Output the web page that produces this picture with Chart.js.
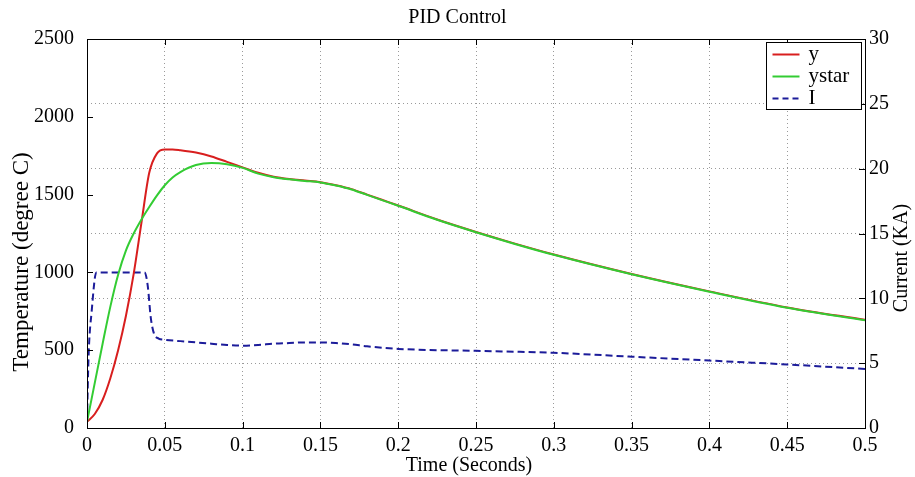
<!DOCTYPE html>
<html>
<head>
<title>PID Control</title>
<script src="https://cdn.jsdelivr.net/npm/chart.js@4"></script>
<style>
  html, body { margin: 0; padding: 0; background: #fff; }
</style>
</head>
<body>
<canvas id="pid" width="915" height="477"></canvas>
<script>
// time axis for the two temperature curves (seconds)
const tTemp = [0, 0.005, 0.01, 0.015, 0.02, 0.025, 0.03, 0.035, 0.04, 0.045, 0.05, 0.055, 0.06, 0.07, 0.08, 0.09, 0.1,
               0.11, 0.12, 0.13, 0.14, 0.15, 0.16, 0.17, 0.18, 0.19, 0.2, 0.225, 0.25, 0.275, 0.3, 0.35, 0.4, 0.45, 0.5];
// measured temperature y (degree C)
const yTemp = [40, 90, 180, 320, 500, 720, 990, 1320, 1640, 1765, 1790, 1790, 1785, 1770, 1745, 1710, 1675,
               1640, 1615, 1600, 1590, 1580, 1560, 1535, 1500, 1465, 1430, 1340, 1260, 1185, 1115, 990, 878, 775, 695];
// reference temperature ystar (degree C)
const ystarTemp = [40, 290, 540, 780, 985, 1140, 1250, 1340, 1420, 1495, 1560, 1610, 1645, 1690, 1703, 1695, 1672,
                   1635, 1612, 1598, 1588, 1578, 1558, 1533, 1498, 1463, 1428, 1338, 1258, 1183, 1113, 988, 876, 773, 693];

// time axis for the current (seconds)
const tCur = [0, 0.001, 0.003, 0.006, 0.02, 0.037, 0.039, 0.041, 0.043, 0.046, 0.05, 0.06, 0.07, 0.08, 0.09, 0.1,
              0.11, 0.12, 0.13, 0.14, 0.15, 0.16, 0.17, 0.18, 0.2, 0.25, 0.3, 0.35, 0.4, 0.45, 0.5];
// current I (KA)
const iCur = [0.5, 5.5, 9, 12, 12, 12, 11, 8.5, 7.3, 6.9, 6.8, 6.7, 6.6, 6.5, 6.4, 6.35,
              6.4, 6.5, 6.55, 6.6, 6.6, 6.55, 6.45, 6.3, 6.1, 5.95, 5.8, 5.5, 5.2, 4.9, 4.55];

const SERIF = '"Liberation Serif", "Times New Roman", serif';
const RED = '#d81e1e', GREEN = '#33cc33', BLUE = '#1c1c9a';

function pts(xs, ys) {
    return xs.map((x, i) => ({x: x, y: ys[i]}));
}

// box, inward tick marks, axis titles and the legend, MATLAB style
const matlabAxes = {
    id: 'matlabAxes',
    afterDraw(chart) {
        const {ctx, chartArea: a, scales} = chart;
        const len = 6;
        ctx.save();
        ctx.strokeStyle = '#000';
        ctx.lineWidth = 1;
        ctx.setLineDash([]);
        ctx.strokeRect(Math.round(a.left) + 0.5, Math.round(a.top) + 0.5,
                       Math.round(a.right - a.left), Math.round(a.bottom - a.top));
        ctx.beginPath();
        scales.x.ticks.forEach(t => {
            const px = Math.round(scales.x.getPixelForValue(t.value)) + 0.5;
            ctx.moveTo(px, a.bottom); ctx.lineTo(px, a.bottom - len);
            ctx.moveTo(px, a.top); ctx.lineTo(px, a.top + len);
        });
        scales.y.ticks.forEach(t => {
            const py = Math.round(scales.y.getPixelForValue(t.value)) + 0.5;
            ctx.moveTo(a.left, py); ctx.lineTo(a.left + len, py);
        });
        scales.y2.ticks.forEach(t => {
            const py = Math.round(scales.y2.getPixelForValue(t.value)) + 0.5;
            ctx.moveTo(a.right, py); ctx.lineTo(a.right - len, py);
        });
        ctx.stroke();

        // axis titles
        ctx.fillStyle = '#000';
        ctx.textAlign = 'center';
        ctx.textBaseline = 'middle';
        ctx.font = '20px ' + SERIF;
        ctx.fillText('Time (Seconds)', 469, 466);

        ctx.save();
        ctx.translate(22, 262);
        ctx.rotate(-Math.PI / 2);
        ctx.font = '23px ' + SERIF;
        ctx.fillText('Temperature (degree C)', 0, 0);
        ctx.restore();

        ctx.save();
        ctx.translate(902, 258);
        ctx.rotate(-Math.PI / 2);
        ctx.font = '20px ' + SERIF;
        ctx.fillText('Current (KA)', 0, 0);
        ctx.restore();

        // legend
        const bx = Math.round(a.right) - 98.5, by = Math.round(a.top) + 3.5, bw = 95, bh = 67;
        ctx.fillStyle = '#fff';
        ctx.fillRect(bx, by, bw, bh);
        ctx.strokeStyle = '#000';
        ctx.strokeRect(bx, by, bw, bh);
        const items = [['y', RED, []], ['ystar', GREEN, []], ['I', BLUE, [6, 4]]];
        items.forEach((it, i) => {
            const ry = by + 12 + i * 22;
            ctx.strokeStyle = it[1];
            ctx.lineWidth = 2;
            ctx.setLineDash(it[2]);
            ctx.beginPath();
            ctx.moveTo(bx + 6, ry); ctx.lineTo(bx + 33, ry);
            ctx.stroke();
            ctx.setLineDash([]);
            ctx.fillStyle = '#000';
            ctx.textAlign = 'left';
            ctx.font = '21px ' + SERIF;
            ctx.fillText(it[0], bx + 42, ry);
        });
        ctx.restore();
    }
};

const tickFont = {family: SERIF, size: 20};
const plain = v => String(Number(v.toFixed(2)));

new Chart(document.getElementById('pid'), {
    type: 'scatter',
    data: {
        datasets: [
            {label: 'y', data: pts(tTemp, yTemp), yAxisID: 'y', order: 1,
             borderColor: RED, borderWidth: 2},
            {label: 'ystar', data: pts(tTemp, ystarTemp), yAxisID: 'y', order: 0,
             borderColor: GREEN, borderWidth: 2},
            {label: 'I', data: pts(tCur, iCur), yAxisID: 'y2', order: 2,
             borderColor: BLUE, borderWidth: 2, borderDash: [7, 4]}
        ]
    },
    options: {
        responsive: false,
        animation: false,
        showLine: true,
        layout: {padding: 0},
        elements: {
            point: {radius: 0, hoverRadius: 0},
            line: {cubicInterpolationMode: 'monotone', fill: false}
        },
        plugins: {
            legend: {display: false},
            tooltip: {enabled: false},
            title: {
                display: true,
                text: 'PID Control',
                color: '#000',
                font: {family: SERIF, size: 20, weight: 'normal'},
                padding: {top: 6, bottom: 9}
            }
        },
        scales: {
            x: {
                type: 'linear',
                min: 0, max: 0.5,
                afterFit: s => { s.height = 49; },
                grid: {color: '#9a9a9a', drawTicks: false},
                border: {display: false, dash: [1, 3]},
                ticks: {
                    stepSize: 0.05, autoSkip: false, maxRotation: 0, padding: 6,
                    color: '#000', font: tickFont, callback: plain
                }
            },
            y: {
                position: 'left',
                min: 0, max: 2500,
                afterFit: s => { s.width = 87; },
                grid: {display: false},
                border: {display: false},
                ticks: {stepSize: 500, padding: 5, color: '#000', font: tickFont, callback: plain}
            },
            y2: {
                position: 'right',
                min: 0, max: 30,
                afterFit: s => { s.width = 50; },
                grid: {color: '#9a9a9a', drawTicks: false},
                border: {display: false, dash: [1, 3]},
                ticks: {stepSize: 5, padding: 4, color: '#000', font: tickFont, callback: plain}
            }
        }
    },
    plugins: [matlabAxes]
});
</script>
</body>
</html>
